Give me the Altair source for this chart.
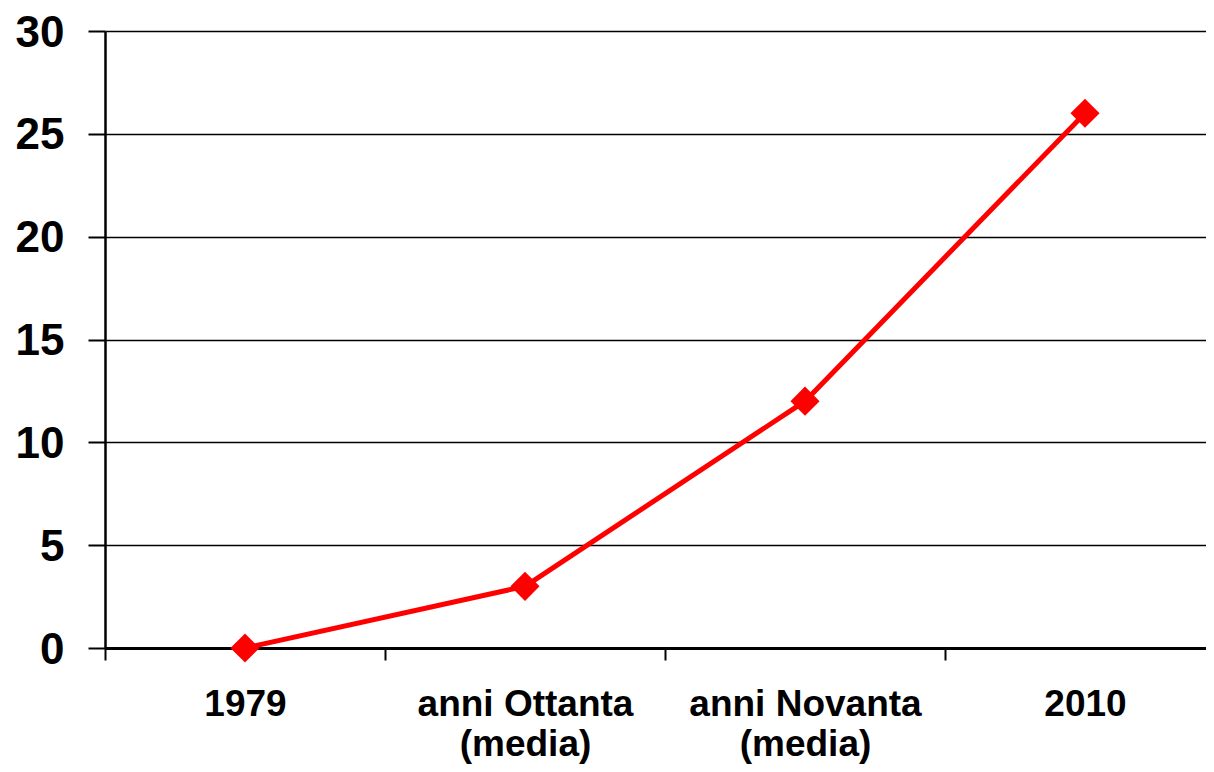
import altair as alt
import pandas as pd

categories = ["1979", "anni Ottanta\n(media)", "anni Novanta\n(media)", "2010"]
values = [0, 3, 12, 26]
y_ticks = [0, 5, 10, 15, 20, 25, 30]

df = pd.DataFrame({
    "cat": categories,
    "pos": [i + 0.5 for i in range(len(categories))],
    "val": values,
})

FONT = "Liberation Sans"
W = 1101
BAND = 280

tick_vals = []
for i in range(len(categories)):
    tick_vals += [i, i + 0.5]

label_map = "{" + ", ".join(
    f"'{i + 0.5}': {list(c.split(chr(10)))!r}" for i, c in enumerate(categories)
) + "}"

x_enc = alt.X(
    "pos:Q",
    scale=alt.Scale(domain=[0, W / BAND], nice=False, zero=False),
    axis=alt.Axis(
        title=None,
        values=tick_vals,
        labelExpr=f"datum.value % 1 == 0 ? '' : {label_map}[toString(datum.value)]",
        labelAngle=0,
        labelFont=FONT,
        labelFontSize=37,
        labelFontWeight="bold",
        labelColor="black",
        labelPadding=26,
        labelLineHeight=40,
        labelLimit=0,
        labelOverlap=False,
        labelFlush=False,
        tickSize=12,
        tickWidth=2,
        tickColor="black",
        tickOpacity={"expr": "datum.value % 1 == 0 ? 1 : 0"},
        domainColor="black",
        domainWidth=3,
        grid=False,
    ),
)

y_enc = alt.Y(
    "val:Q",
    scale=alt.Scale(domain=[0, 30], nice=False),
    axis=alt.Axis(
        title=None,
        values=y_ticks,
        labelFont=FONT,
        labelFontSize=44,
        labelFontWeight="bold",
        labelColor="black",
        labelPadding=24,
        labelOffset=2,
        labelFlush=False,
        tickSize=17,
        tickWidth=2,
        tickColor="black",
        domainColor="black",
        domainWidth=2.5,
        grid=True,
        gridColor="black",
        gridWidth=1.6,
    ),
)

line = alt.Chart(df).mark_line(color="#ff0000", strokeWidth=5).encode(x=x_enc, y=y_enc)
pts = alt.Chart(df).mark_point(
    shape="diamond", size=850, filled=True, color="#ff0000", opacity=1
).encode(x="pos:Q", y="val:Q")

chart = (
    alt.layer(line, pts)
    .properties(
        width=W,
        height=617,
        autosize=alt.AutoSizeParams(type="none"),
        padding={"left": 97, "top": 23, "right": 0, "bottom": 116},
    )
    .configure_view(stroke=None)
)

chart.save("out.html", embed_options={"renderer": "svg", "actions": False})
